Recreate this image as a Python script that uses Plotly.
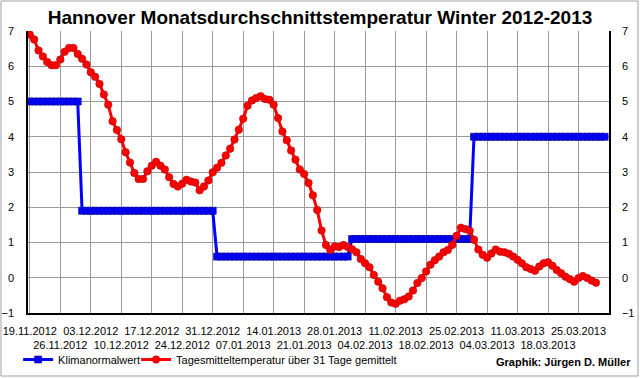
import pandas as pd
import plotly.graph_objects as go

# ---- data ----
start_date = "2012-11-19"
# 31-day running mean of daily mean temperature (one value per day from 19.11.2012)
temp_mean = [
    6.90, 6.76, 6.45, 6.28, 6.12, 6.03, 6.03, 6.19, 6.41, 6.52,
    6.52, 6.35, 6.21, 6.05, 5.83, 5.70, 5.50, 5.20, 4.91, 4.44,
    4.19, 3.93, 3.56, 3.27, 2.97, 2.80, 2.80, 3.02, 3.18, 3.29,
    3.18, 3.07, 2.85, 2.66, 2.59, 2.67, 2.78, 2.73, 2.70, 2.48,
    2.59, 2.76, 2.99, 3.12, 3.26, 3.47, 3.66, 3.92, 4.20, 4.51,
    4.88, 5.03, 5.10, 5.15, 5.07, 5.05, 4.91, 4.53, 4.15, 3.90,
    3.61, 3.35, 3.07, 2.94, 2.69, 2.34, 1.92, 1.34, 0.93, 0.79,
    0.89, 0.87, 0.93, 0.87, 0.81, 0.72, 0.53, 0.41, 0.30, 0.08,
    -0.11, -0.30, -0.55, -0.70, -0.74, -0.65, -0.61, -0.53, -0.36, -0.15,
    -0.01, 0.18, 0.37, 0.50, 0.60, 0.72, 0.79, 0.93, 1.19, 1.42,
    1.38, 1.33, 1.08, 0.80, 0.65, 0.57, 0.69, 0.80, 0.74, 0.72,
    0.68, 0.60, 0.51, 0.41, 0.30, 0.25, 0.20, 0.32, 0.41, 0.44,
    0.34, 0.22, 0.13, 0.03, -0.04, -0.11, -0.01, 0.05, -0.01, -0.08,
    -0.14,
]
# monthly climate normal (Klimanormalwert)
normal_months = ["2012-11", "2012-12", "2013-01", "2013-02", "2013-03"]
normal_values = [5.0, 1.9, 0.6, 1.1, 4.0]
normal_end_date = "2013-03-31"

x_tick_labels = [
    "19.11.2012", "26.11.2012", "03.12.2012", "10.12.2012", "17.12.2012",
    "24.12.2012", "31.12.2012", "07.01.2013", "14.01.2013", "21.01.2013",
    "28.01.2013", "04.02.2013", "11.02.2013", "18.02.2013", "25.02.2013",
    "04.03.2013", "11.03.2013", "18.03.2013", "25.03.2013",
]
y_ticks = [-1, 0, 1, 2, 3, 4, 5, 6, 7]

# ---- derived ----
temp_dates = pd.date_range(start_date, periods=len(temp_mean), freq="D")
normal_dates = pd.date_range(start_date, normal_end_date, freq="D")
month_map = dict(zip(normal_months, normal_values))
normal_daily = [month_map[d.strftime("%Y-%m")] for d in normal_dates]

tick_dates = [pd.to_datetime(s, format="%d.%m.%Y") for s in x_tick_labels]
tick_text = [s if i % 2 == 0 else "<br>" + s for i, s in enumerate(x_tick_labels)]

FONT = "Liberation Sans, Arial, sans-serif"

fig = go.Figure()
fig.add_trace(go.Scatter(
    x=normal_dates, y=normal_daily, mode="lines+markers",
    name="Klimanormalwert", legend="legend",
    line=dict(color="#0000ff", width=3),
    marker=dict(symbol="square", size=7, color="#0000ff",
                line=dict(color="#00008b", width=0.6)),
))
fig.add_trace(go.Scatter(
    x=temp_dates, y=temp_mean, mode="lines+markers",
    name="Tagesmitteltemperatur über 31 Tage gemittelt", legend="legend2",
    line=dict(color="#ff0000", width=3),
    marker=dict(symbol="circle", size=7.5, color="#ff0000",
                line=dict(color="#b00000", width=0.6)),
))
# helper trace for the right-hand axis
fig.add_trace(go.Scatter(x=[temp_dates[0]], y=[None], yaxis="y2",
                         showlegend=False, hoverinfo="skip"))

x0 = pd.Timestamp(start_date) - pd.Timedelta(hours=10)
x1 = pd.Timestamp("2013-04-01")

legend_common = dict(orientation="h", yanchor="middle", y=-0.165,
                     font=dict(family=FONT, size=11), itemwidth=30,
                     bgcolor="rgba(0,0,0,0)", xanchor="left")

fig.update_layout(
    width=640, height=378,
    margin=dict(l=28, r=31, t=31, b=65, autoexpand=False),
    paper_bgcolor="white", plot_bgcolor="white",
    font=dict(family=FONT, size=11, color="black"),
    title=dict(text="<b>Hannover Monatsdurchschnittstemperatur Winter 2012-2013</b>",
               x=0.5, xanchor="center", y=0.955, yanchor="middle",
               font=dict(family=FONT, size=19, color="black")),
    xaxis=dict(type="date", range=[x0, x1], tickvals=tick_dates, ticktext=tick_text,
               showgrid=True, gridcolor="#9a9a9a", gridwidth=1,
               showline=True, linecolor="black", linewidth=1.5,
               ticks="", ticklabelstandoff=7, tickangle=0,
               tickfont=dict(family=FONT, size=11),
               zeroline=False, automargin=False),
    yaxis=dict(range=[-1, 7], tickvals=y_ticks, showgrid=True, gridcolor="#9a9a9a",
               gridwidth=1, showline=True, linecolor="black", linewidth=1.5,
               ticks="", ticklabelstandoff=10, zeroline=False, automargin=False),
    yaxis2=dict(range=[-1, 7], tickvals=y_ticks, overlaying="y", side="right",
                showgrid=False, showline=True, linecolor="black", linewidth=1.5,
                ticks="", ticklabelstandoff=9, zeroline=False, automargin=False),
    legend=dict(legend_common, x=-0.017),
    legend2=dict(legend_common, x=0.186),
    showlegend=True,
    annotations=[dict(text="<b>Graphik: Jürgen D. Müller</b>", xref="paper", yref="paper",
                      x=1.041, y=-0.175, xanchor="right", yanchor="middle",
                      showarrow=False, font=dict(family=FONT, size=11, color="black"))],
    shapes=[dict(type="rect", xref="paper", yref="paper",
                 x0=(1 - 28) / 581, x1=(638 - 28) / 581,
                 y0=(313 - 376) / 282, y1=(313 - 1) / 282,
                 line=dict(color="#a0a0a0", width=1), fillcolor="rgba(0,0,0,0)",
                 layer="below")],
)

fig.write_html("out.html", config={"displayModeBar": False},
               post_script="document.body.style.margin='0px';document.body.style.padding='0px';")
